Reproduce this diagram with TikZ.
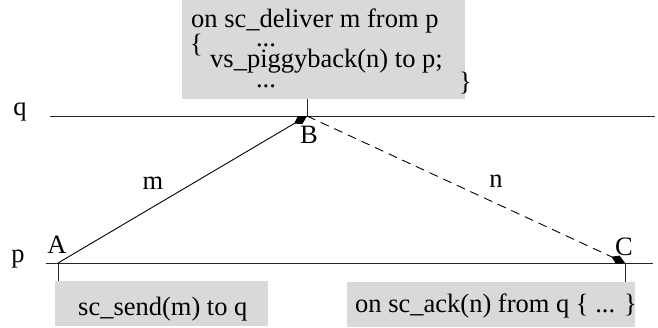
\documentclass[tikz,border=0pt]{standalone}
\usepackage{fontspec}
\setmainfont{Liberation Serif}
\usetikzlibrary{arrows.meta}
\definecolor{boxgray}{RGB}{217,217,217}
\tikzset{
  txt/.style={font=\fontsize{26.5}{28}\selectfont, inner sep=0pt, anchor=base west},
  ctxt/.style={font=\fontsize{26.5}{28}\selectfont, inner sep=0pt, anchor=base},
  codebox/.style={fill=boxgray, draw=none},
  timeline/.style={line width=0.9pt, black!85},
  tick/.style={line width=0.9pt, black!85},
  msg/.style={line width=0.9pt, -{Kite[length=15pt,width=9pt,inset=7pt]}},
}
\begin{document}
\begin{tikzpicture}[x=1pt,y=-1pt]
\useasboundingbox (0,0) rectangle (658,327);
% boxes
\node[codebox, minimum width=283pt, minimum height=99pt, anchor=north west, inner sep=0pt] (top) at (182,0) {};
\node[codebox, minimum width=213pt, minimum height=45pt, anchor=north west, inner sep=0pt] (bl) at (55,281) {};
\node[codebox, minimum width=288pt, minimum height=45pt, anchor=north west, inner sep=0pt] (br) at (347,282) {};
% texts in boxes
\node[txt] (t1) at (191,27) {on sc\_deliver m from p};
\node[txt] (t2) at (190,52) {\{};
\node[ctxt] (t3) at (266,46) {...};
\node[txt] (t4) at (210,67) {vs\_piggyback(n) to p;};
\node[ctxt] (t5) at (266,87) {...};
\node[txt] (t6) at (459,90) {\}};
\node[txt] (t7) at (78,315) {sc\_send(m) to q};
\node[txt] (t8) at (355,312) {on sc\_ack(n) from q \{ ... \}};
% process lines
\coordinate (qs) at (50,116);
\coordinate (qe) at (655,116);
\coordinate (ps) at (46,263);
\coordinate (pe) at (653,263);
\draw[timeline] (qs) -- (qe);
\draw[timeline] (ps) -- (pe);
\node[ctxt] (q) at (20,115) {q};
\node[ctxt] (p) at (18,262) {p};
% events
\coordinate (A) at (58,263);
\coordinate (B) at (307,116);
\coordinate (C) at (625,263);
\coordinate (Atk) at (58,281);
\coordinate (Btk) at (307,99);
\coordinate (Ctk) at (625,282);
\draw[tick] (A) -- (Atk);
\draw[tick] (Btk) -- (B);
\draw[tick] (C) -- (Ctk);
\node[ctxt] (la) at (57,253) {A};
\node[ctxt] (lb) at (309,143) {B};
\node[ctxt] (lc) at (624,255) {C};
% messages
\draw[msg] (A) -- (B);
\draw[msg, dashed, dash pattern=on 9pt off 6pt] (B) -- (C);
\node[ctxt] (lm) at (153,189) {m};
\node[ctxt] (ln) at (496,187) {n};
\end{tikzpicture}
\end{document}
